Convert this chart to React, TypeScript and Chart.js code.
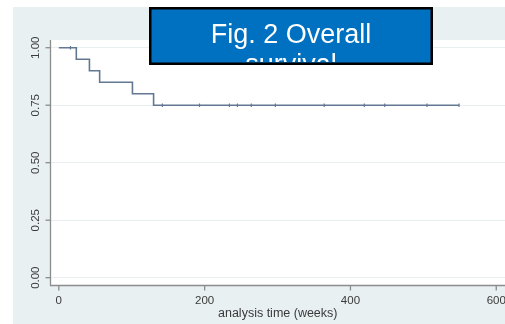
import React, { useEffect, useRef } from "react";
import { Chart, registerables } from "chart.js";

Chart.register(...registerables);

// Kaplan-Meier step points (time in weeks, survival)
const stepTimes = [0, 24, 42, 56, 101, 130, 549];
const stepSurv = [1.0, 0.95, 0.9, 0.85, 0.8, 0.75, 0.75];
// Censoring marks
const censorTimes = [16, 142, 193, 234, 245, 264, 297, 364, 419, 447, 505, 549];
const censorSurv = [1.0, 0.75, 0.75, 0.75, 0.75, 0.75, 0.75, 0.75, 0.75, 0.75, 0.75, 0.75];
// Axes
const xTicks = [0, 200, 400, 600];
const yTicks = [0, 0.25, 0.5, 0.75, 1.0];
const yTickLabels = ["0.00", "0.25", "0.50", "0.75", "1.00"];
const xTitle = "analysis time (weeks)";
const titleLines = ["Fig. 2 Overall", "survival"];

const FONT = "'Liberation Sans', Arial, sans-serif";

const decorPlugin = {
  id: "decor",
  beforeDraw(chart: any) {
    const { ctx, chartArea: a, width, height } = chart;
    ctx.save();
    ctx.fillStyle = "#ffffff";
    ctx.fillRect(0, 0, width, height);
    ctx.fillStyle = "#e8f0f2";
    ctx.fillRect(13, 7, width - 13, height - 7);
    ctx.fillStyle = "#ffffff";
    ctx.fillRect(a.left, a.top, a.right - a.left, a.bottom - a.top);
    ctx.restore();
  },
  afterDraw(chart: any) {
    const { ctx, chartArea: a } = chart;
    const xs = chart.scales.x;
    const ys = chart.scales.y;
    ctx.save();
    // axis lines
    ctx.strokeStyle = "#8c8c8c";
    ctx.lineWidth = 1.3;
    ctx.beginPath();
    ctx.moveTo(a.left, a.top);
    ctx.lineTo(a.left, a.bottom);
    ctx.lineTo(a.right, a.bottom);
    ctx.stroke();
    // x ticks
    ctx.fillStyle = "#3a3a3a";
    ctx.font = `11.5px ${FONT}`;
    ctx.textAlign = "center";
    ctx.textBaseline = "alphabetic";
    xTicks.forEach((v) => {
      const px = xs.getPixelForValue(v);
      ctx.beginPath();
      ctx.moveTo(px, a.bottom);
      ctx.lineTo(px, a.bottom + 5);
      ctx.stroke();
      ctx.fillText(String(v), px, a.bottom + 18);
    });
    // y ticks
    yTicks.forEach((v, i) => {
      const py = ys.getPixelForValue(v);
      ctx.beginPath();
      ctx.moveTo(a.left, py);
      ctx.lineTo(a.left - 5, py);
      ctx.stroke();
      ctx.save();
      ctx.translate(39, py);
      ctx.rotate(-Math.PI / 2);
      ctx.textAlign = "center";
      ctx.textBaseline = "alphabetic";
      ctx.fillText(yTickLabels[i], 0, 0);
      ctx.restore();
    });
    // x title
    ctx.font = `12.5px ${FONT}`;
    ctx.textAlign = "center";
    ctx.fillText(xTitle, (a.left + a.right) / 2, 316.5);

    // title box
    const bx = 149, by = 7, bw = 284, bh = 58;
    ctx.fillStyle = "#0070c0";
    ctx.fillRect(bx, by, bw, bh);
    ctx.save();
    ctx.beginPath();
    ctx.rect(bx, by, bw, bh - 3);
    ctx.clip();
    ctx.fillStyle = "#ffffff";
    ctx.font = `27px ${FONT}`;
    ctx.textAlign = "center";
    ctx.fillText(titleLines[0], bx + bw / 2, 43);
    ctx.fillText(titleLines[1], bx + bw / 2, 73);
    ctx.restore();
    ctx.strokeStyle = "#000000";
    ctx.lineWidth = 2.5;
    ctx.strokeRect(bx + 1.25, by + 1.25, bw - 2.5, bh - 2.5);
    ctx.restore();
  },
};

export default function App() {
  const ref = useRef<HTMLCanvasElement>(null);
  useEffect(() => {
    if (!ref.current) return;
    const chart = new Chart(ref.current, {
      type: "line",
      data: {
        datasets: [
          {
            data: stepTimes.map((t, i) => ({ x: t, y: stepSurv[i] })),
            stepped: "before",
            borderColor: "#627792",
            borderWidth: 1.6,
            pointRadius: 0,
            pointHoverRadius: 0,
            fill: false,
          },
          {
            data: censorTimes.map((t, i) => ({ x: t, y: censorSurv[i] })),
            showLine: false,
            pointStyle: "line",
            rotation: 90,
            pointRadius: 1.8,
            pointHoverRadius: 0,
            borderColor: "#627792",
            borderWidth: 1.2,
            backgroundColor: "#627792",
          },
        ],
      },
      options: {
        animation: false,
        responsive: false,
        maintainAspectRatio: false,
        layout: { autoPadding: false, padding: { top: 40, left: 0, right: 0, bottom: 0 } },
        plugins: { legend: { display: false }, tooltip: { enabled: false } },
        scales: {
          x: {
            type: "linear",
            min: -11.4,
            max: 612,
            grid: { display: false },
            border: { display: false },
            ticks: { display: false },
            afterFit: (s: any) => {
              s.height = 38.5;
              s.paddingLeft = 0;
              s.paddingRight = 0;
            },
          },
          y: {
            type: "linear",
            min: -0.034,
            max: 1.0335,
            grid: { color: "#e8eff1", drawTicks: false, lineWidth: 1 },
            border: { display: false },
            ticks: { display: false },
            afterBuildTicks: (s: any) => {
              s.ticks = yTicks.map((v) => ({ value: v }));
            },
            afterFit: (s: any) => {
              s.width = 50.5;
              s.paddingTop = 0;
              s.paddingBottom = 0;
            },
          },
        },
      },
      plugins: [decorPlugin],
    } as any);
    return () => chart.destroy();
  }, []);
  return (
    <div style={{ position: "fixed", left: 0, top: 0, width: 505, height: 324 }}>
      <canvas ref={ref} width={505} height={324} style={{ display: "block" }} />
    </div>
  );
}
